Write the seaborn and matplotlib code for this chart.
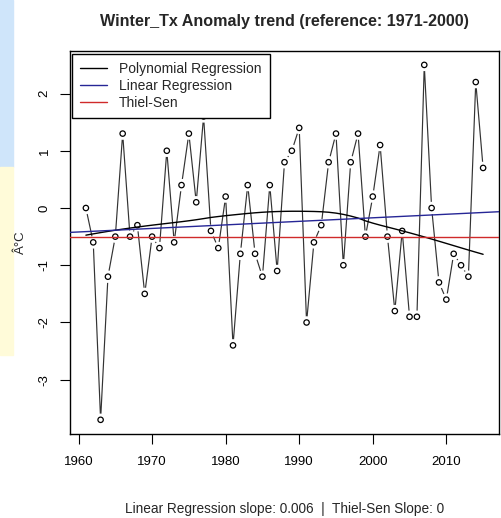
import numpy as np
import pandas as pd
import matplotlib
matplotlib.use("Agg")
import matplotlib.pyplot as plt
from matplotlib.patches import Rectangle
import seaborn as sns

years = list(range(1961, 2016))
anomaly = [0.0, -0.6, -3.7, -1.2, -0.5, 1.3, -0.5, -0.3, -1.5, -0.5,
           -0.7, 1.0, -0.6, 0.4, 1.3, 0.1, 1.6, -0.4, -0.7, 0.2,
           -2.4, -0.8, 0.4, -0.8, -1.2, 0.4, -1.1, 0.8, 1.0, 1.4,
           -2.0, -0.6, -0.3, 0.8, 1.3, -1.0, 0.8, 1.3, -0.5, 0.2,
           1.1, -0.5, -1.8, -0.4, -1.9, -1.9, 2.5, 0.0, -1.3, -1.6,
           -0.8, -1.0, -1.2, 2.2, 0.7]
x_ticks = [1960, 1970, 1980, 1990, 2000, 2010]
y_ticks = [-3, -2, -1, 0, 1, 2]
title = "Winter_Tx Anomaly trend (reference: 1971-2000)"
ylabel = "Â°C"
subtitle = "Linear Regression slope: 0.006  |  Thiel-Sen Slope: 0"
legend_labels = ["Polynomial Regression", "Linear Regression", "Thiel-Sen"]

df = pd.DataFrame({"year": years, "anom": anomaly})
x = df["year"].to_numpy(float)
y = df["anom"].to_numpy(float)

# linear regression
lin_slope, lin_int = np.polyfit(x, y, 1)

# Theil-Sen
ii, jj = np.triu_indices(len(x), k=1)
ts_slope = np.median((y[jj] - y[ii]) / (x[jj] - x[ii]))
ts_int = np.median(y - ts_slope * x)


# R-style lowess smoother (f = 2/3, 3 robustness iterations)
def lowess(xv, yv, f=2 / 3, iters=3):
    n = len(xv)
    ns = max(2, min(n, int(f * n + 1e-7)))
    rw = np.ones(n)
    fit = np.zeros(n)
    for it in range(iters + 1):
        nleft, nright = 0, ns - 1
        for i in range(n):
            while nright < n - 1 and xv[i] - xv[nleft] > xv[nright + 1] - xv[i]:
                nleft += 1
                nright += 1
            h = max(xv[i] - xv[nleft], xv[nright] - xv[i])
            d = np.abs(xv - xv[i])
            w = np.where(d <= 0.999 * h, np.clip(1 - (d / h) ** 3, 0, None) ** 3, 0.0)
            w = np.where(d <= 0.001 * h, 1.0, w) * rw
            w = w / w.sum()
            a = np.sum(w * xv)
            c = np.sum(w * (xv - a) ** 2)
            if c > 0:
                b = (xv[i] - a) / c
                w = w * (b * (xv - a) + 1)
            fit[i] = np.sum(w * yv)
        if it == iters:
            break
        res = yv - fit
        cmad = 6 * np.median(np.abs(res))
        r = np.abs(res)
        rw = np.where(r <= 0.999 * cmad, (1 - (r / cmad) ** 2) ** 2, 0.0)
        rw = np.where(r <= 0.001 * cmad, 1.0, rw)
    return fit


df["poly"] = lowess(x, y)

sns.set_style("ticks")
plt.rcParams["font.family"] = ["Liberation Sans", "DejaVu Sans"]

W, H = 502, 518
fig = plt.figure(figsize=(W / 100, H / 100), dpi=100)
fig.patches.append(Rectangle((0, 1 - 167 / H), 13 / W, 167 / H, transform=fig.transFigure,
                             color="#cfe5fa", zorder=-5))
fig.patches.append(Rectangle((0, 1 - 355 / H), 13 / W, 188 / H, transform=fig.transFigure,
                             color="#fffbd9", zorder=-5))
ax = fig.add_axes([70 / W, 1 - 434 / H, (499 - 70) / W, (434 - 50.7) / H])

sns.lineplot(data=df, x="year", y="anom", ax=ax, color="#333333", lw=0.85, zorder=2)
sns.scatterplot(data=df, x="year", y="anom", ax=ax, s=80, color="white",
                edgecolor="none", linewidth=0, zorder=3)
sns.scatterplot(data=df, x="year", y="anom", ax=ax, s=15, facecolor="none",
                edgecolor="black", linewidth=0.9, zorder=4)

sns.lineplot(data=df, x="year", y="poly", ax=ax, color="black", lw=1.0, zorder=5,
             label=legend_labels[0])
xl = np.array([1955.0, 2020.0])
ax.plot(xl, lin_int + lin_slope * xl, color="#262696", lw=1.0, zorder=5,
        label=legend_labels[1])
ax.plot(xl, ts_int + ts_slope * xl, color="#d02a2a", lw=1.0, zorder=5,
        label=legend_labels[2])

ax.set_xlim(1958.84, 2017.16)
ax.set_ylim(-3.948, 2.748)
ax.set_xticks(x_ticks)
ax.set_yticks(y_ticks)
ax.set_yticklabels([str(v) for v in y_ticks], rotation=90, va="center")
ax.tick_params(axis="both", length=7, width=0.8, direction="out", labelsize=9.5,
               colors="black")
ax.tick_params(axis="x", pad=9)
ax.tick_params(axis="y", pad=7)
for s in ax.spines.values():
    s.set_visible(True)
    s.set_color("black")
    s.set_linewidth(1.0)

ax.set_title(title, fontsize=11.6, fontweight="bold", pad=18)
ax.set_ylabel(ylabel, fontsize=9.5)
ax.yaxis.set_label_coords(-0.10, 0.5)
ax.set_xlabel(subtitle, fontsize=9.8)
ax.xaxis.set_label_coords(0.5, -0.178)

handles, labels = ax.get_legend_handles_labels()
leg = ax.legend(handles[:3], legend_labels, loc="upper left", bbox_to_anchor=(0.0047, 0.9914),
                borderaxespad=0, fontsize=10, frameon=True, fancybox=False,
                edgecolor="black", framealpha=1, borderpad=0.6, labelspacing=0.2,
                handlelength=1.9, handletextpad=0.9)
leg.get_frame().set_linewidth(1.0)
leg.set_zorder(10)

fig.savefig("out.png", dpi=100)
